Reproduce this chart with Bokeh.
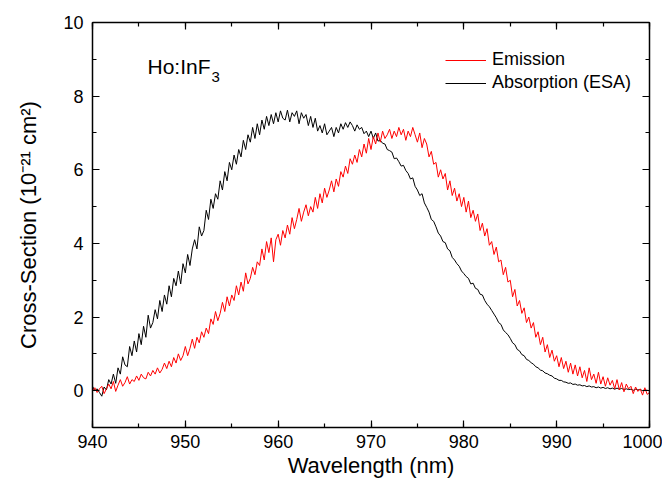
from bokeh.plotting import figure
from bokeh.models import (Range1d, LinearAxis, SingleIntervalTicker, Legend,
                          LegendItem, Label, CustomJSTickFormatter)
from bokeh.embed import file_html
from bokeh.resources import INLINE

wl_start = 940.0
wl_step = 0.25

emission = [
    0.00, 0.08, -0.05, 0.05,   # 940
    0.12, -0.08, 0.05, 0.18,   # 941
    0.05, 0.25, -0.02, 0.15,   # 942
    0.30, 0.12, 0.22, 0.38,    # 943
    0.18, 0.30, 0.25, 0.40,    # 944
    0.28, 0.45, 0.35, 0.32,    # 945
    0.50, 0.40, 0.55, 0.45,    # 946
    0.62, 0.48, 0.58, 0.75,    # 947
    0.60, 0.80, 0.65, 0.90,    # 948
    0.75, 1.00, 0.82, 0.95,    # 949
    1.20, 0.95, 1.15, 1.40,    # 950
    1.15, 1.45, 1.30, 1.60,    # 951
    1.45, 1.70, 1.55, 1.95,    # 952
    1.80, 2.15, 1.90, 2.10,    # 953
    2.40, 2.15, 2.55, 2.30,    # 954
    2.60, 2.45, 2.85, 2.60,    # 955
    2.95, 2.70, 3.20, 2.90,    # 956
    3.05, 3.35, 3.15, 3.50,    # 957
    3.40, 3.85, 3.55, 4.05,    # 958
    3.75, 4.15, 3.50, 4.10,    # 959
    4.25, 3.95, 4.35, 4.15,    # 960
    4.50, 4.25, 4.70, 4.40,    # 961
    4.65, 4.95, 4.60, 4.85,    # 962
    5.05, 4.75, 5.00, 4.85,    # 963
    5.25, 4.95, 5.35, 5.10,    # 964
    5.50, 5.25, 5.45, 5.70,    # 965
    5.40, 5.75, 5.55, 5.95,    # 966
    5.80, 6.10, 5.90, 6.30,    # 967
    6.15, 6.40, 6.20, 6.55,    # 968
    6.35, 6.70, 6.45, 6.85,    # 969
    6.55, 6.90, 6.70, 7.00,    # 970
    6.75, 7.05, 6.85, 6.95,    # 971
    7.10, 6.85, 7.05, 6.90,    # 972
    7.15, 6.95, 7.10, 6.80,    # 973
    7.05, 6.90, 7.15, 6.95,    # 974
    6.75, 7.00, 6.60, 6.85,    # 975
    6.70, 6.35, 6.50, 6.15,    # 976
    6.20, 5.80, 6.00, 5.75,    # 977
    5.90, 5.45, 5.70, 5.30,    # 978
    5.50, 5.15, 5.35, 5.00,    # 979
    5.25, 4.85, 5.15, 4.70,    # 980
    4.90, 4.60, 4.80, 4.35,    # 981
    4.55, 4.20, 4.40, 3.95,    # 982
    4.05, 3.70, 3.90, 3.50,    # 983
    3.55, 3.15, 3.35, 2.95,    # 984
    3.00, 2.55, 2.75, 2.30,    # 985
    2.45, 2.10, 2.25, 1.85,    # 986
    2.00, 1.70, 1.85, 1.45,    # 987
    1.60, 1.25, 1.45, 1.05,    # 988
    1.25, 0.90, 1.10, 0.80,    # 989
    0.95, 0.65, 0.90, 0.60,    # 990
    0.80, 0.50, 0.75, 0.45,    # 991
    0.70, 0.40, 0.65, 0.35,    # 992
    0.55, 0.25, 0.62, 0.30,    # 993
    0.45, 0.20, 0.50, 0.18,    # 994
    0.38, 0.12, 0.35, 0.15,    # 995
    0.28, 0.05, 0.30, 0.02,    # 996
    0.22, -0.03, 0.18, 0.05,   # 997
    0.12, -0.08, 0.10, -0.02,  # 998
    0.05, -0.12, 0.08, -0.10,  # 999
    -0.05,                     # 1000
]

absorption = [
    0.12, 0.00, 0.05, -0.05,   # 940
    -0.15, 0.10, 0.02, 0.30,   # 941
    0.18, 0.45, 0.20, 0.62,    # 942
    0.45, 0.92, 0.70, 0.65,    # 943
    1.20, 0.95, 1.35, 1.05,    # 944
    1.55, 1.25, 1.75, 1.45,    # 945
    2.05, 1.70, 1.85, 2.20,    # 946
    1.95, 2.45, 2.15, 2.60,    # 947
    2.35, 2.85, 2.55, 3.05,    # 948
    2.85, 3.25, 2.90, 3.45,    # 949
    3.20, 3.70, 3.40, 3.85,    # 950
    4.10, 3.85, 4.45, 4.20,    # 951
    4.35, 4.90, 4.65, 5.20,    # 952
    4.95, 5.35, 5.20, 5.70,    # 953
    5.45, 5.95, 5.70, 6.20,    # 954
    6.00, 6.40, 6.15, 6.55,    # 955
    6.35, 6.80, 6.55, 6.95,    # 956
    6.75, 7.15, 6.85, 7.25,    # 957
    6.95, 7.35, 7.10, 7.45,    # 958
    7.20, 7.50, 7.25, 7.55,    # 959
    7.30, 7.60, 7.40, 7.35,    # 960
    7.62, 7.30, 7.55, 7.45,    # 961
    7.60, 7.25, 7.55, 7.40,    # 962
    7.50, 7.20, 7.45, 7.15,    # 963
    7.40, 7.05, 7.20, 7.00,    # 964
    7.25, 6.95, 7.05, 7.15,    # 965
    6.90, 7.15, 7.00, 7.25,    # 966
    7.10, 7.28, 7.15, 7.30,    # 967
    7.20, 7.05, 7.22, 7.10,    # 968
    7.15, 6.98, 7.05, 6.90,    # 969
    7.05, 6.85, 7.00, 6.78,    # 970
    6.80, 6.72, 6.70, 6.55,    # 971
    6.52, 6.48, 6.30, 6.32,    # 972
    6.22, 6.10, 6.12, 5.98,    # 973
    5.90, 5.75, 5.78, 5.55,    # 974
    5.45, 5.30, 5.35, 5.10,    # 975
    4.98, 4.85, 4.65, 4.60,    # 976
    4.45, 4.28, 4.20, 4.05,    # 977
    4.02, 3.85, 3.80, 3.62,    # 978
    3.55, 3.45, 3.38, 3.25,    # 979
    3.18, 3.10, 3.05, 2.90,    # 980
    2.92, 2.78, 2.75, 2.62,    # 981
    2.60, 2.45, 2.35, 2.28,    # 982
    2.18, 2.08, 1.98, 1.85,    # 983
    1.80, 1.65, 1.58, 1.52,    # 984
    1.42, 1.30, 1.25, 1.12,    # 985
    1.08, 0.98, 0.95, 0.85,    # 986
    0.82, 0.76, 0.72, 0.65,    # 987
    0.62, 0.56, 0.54, 0.48,    # 988
    0.46, 0.42, 0.40, 0.34,    # 989
    0.32, 0.28, 0.28, 0.24,    # 990
    0.23, 0.20, 0.21, 0.17,    # 991
    0.18, 0.15, 0.16, 0.13,    # 992
    0.14, 0.11, 0.13, 0.10,    # 993
    0.11, 0.08, 0.10, 0.07,    # 994
    0.09, 0.06, 0.08, 0.05,    # 995
    0.07, 0.04, 0.07, 0.04,    # 996
    0.06, 0.03, 0.05, 0.03,    # 997
    0.04, 0.01, 0.04, 0.02,    # 998
    0.03, 0.00, 0.02, 0.01,    # 999
    0.00,                      # 1000
]

wavelength = [wl_start + wl_step * i for i in range(len(emission))]

series_labels = ["Emission", "Absorption (ESA)"]
x_title = "Wavelength (nm)"
y_title = "Cross-Section (10\u207b\u00b2\u00b9 cm\u00b2)"
sample_name = "Ho:InF"
sample_sub = "3"

# ---------------- figure ---------------------------------------------------
FONT = "Liberation Sans"
X0, X1 = 940, 1000
Y0, Y1 = -1, 10
FW, FH = 557, 405
LEFT, TOP = 92, 22

p = figure(output_backend="svg", toolbar_location=None,
           frame_width=FW, frame_height=FH,
           x_range=Range1d(X0, X1), y_range=Range1d(Y0, Y1),
           min_border_left=LEFT, min_border_right=13,
           min_border_top=TOP, min_border_bottom=58,
           x_axis_type=None, y_axis_type=None)
p.xgrid.visible = False
p.ygrid.visible = False
p.outline_line_color = None
p.background_fill_color = "white"
p.border_fill_color = "white"

blank = CustomJSTickFormatter(code="return ''")


def style_axis(ax, show_labels=True):
    ax.axis_line_color = "black"
    ax.axis_line_width = 1.5
    ax.major_tick_in = 7
    ax.major_tick_out = 0
    ax.minor_tick_in = 4
    ax.minor_tick_out = 0
    ax.major_tick_line_color = "black"
    ax.minor_tick_line_color = "black"
    ax.major_tick_line_width = 1.2
    ax.minor_tick_line_width = 1.2
    ax.major_label_text_font = FONT
    ax.major_label_text_color = "black"
    ax.major_label_text_font_size = "18px"
    ax.axis_label_text_color = "black"
    if not show_labels:
        ax.formatter = blank
        ax.major_label_standoff = 0


xb = LinearAxis(ticker=SingleIntervalTicker(interval=10, num_minor_ticks=2))
style_axis(xb)
xb.major_label_standoff = 7
xb.axis_label = x_title
xb.axis_label_text_font = FONT
xb.axis_label_text_font_size = "22px"
xb.axis_label_text_font_style = "normal"
xb.axis_label_standoff = 2
p.add_layout(xb, "below")

yl = LinearAxis(ticker=SingleIntervalTicker(interval=2, num_minor_ticks=2))
style_axis(yl)
yl.major_label_standoff = 9
yl.axis_label = y_title
yl.axis_label_text_font = FONT
yl.axis_label_text_font_size = "22px"
yl.axis_label_text_font_style = "normal"
yl.axis_label_standoff = 19
p.add_layout(yl, "left")

xa = LinearAxis(ticker=SingleIntervalTicker(interval=10, num_minor_ticks=2))
style_axis(xa, show_labels=False)
p.add_layout(xa, "above")

yr = LinearAxis(ticker=SingleIntervalTicker(interval=2, num_minor_ticks=2))
style_axis(yr, show_labels=False)
p.add_layout(yr, "right")

# ---------------- curves ---------------------------------------------------
r_abs = p.line(wavelength, absorption, line_color="black", line_width=1.0)
r_em = p.line(wavelength, emission, line_color="#ff0000", line_width=1.0)

legend = Legend(items=[LegendItem(label=series_labels[0], renderers=[r_em]),
                       LegendItem(label=series_labels[1], renderers=[r_abs])],
                location=(353, 334), border_line_color=None,
                background_fill_alpha=0, label_text_font=FONT,
                label_text_font_size="18px", label_text_color="black",
                glyph_width=41, glyph_height=20,
                label_height=20, spacing=2, padding=0, margin=0,
                label_standoff=6)
p.add_layout(legend)


# ---------------- texts placed by page pixel ------------------------------
def dx(px):
    return X0 + (px - LEFT) * (X1 - X0) / FW


def dy(py):
    return Y1 - (py - TOP) * (Y1 - Y0) / FH


def add_text(txt, px, py, size):
    p.add_layout(Label(x=dx(px), y=dy(py), text=txt, text_font=FONT,
                       text_font_size=f"{size}px", text_color="black",
                       text_align="left", text_baseline="alphabetic"))


add_text(sample_name, 147, 66, 21)
add_text(sample_sub, 211, 76, 15)

open("out.html", "w").write(file_html(p, INLINE))
